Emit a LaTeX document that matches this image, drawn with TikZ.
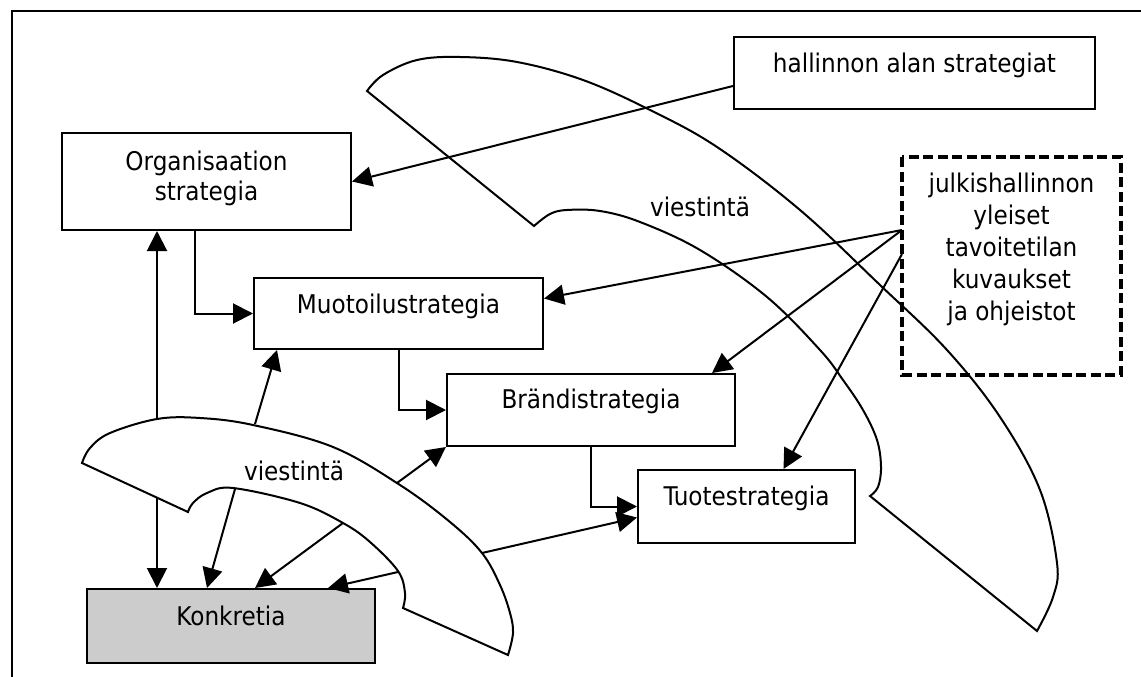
\documentclass[tikz,border=0pt]{standalone}
\usepackage{fontspec}
\setmainfont{DejaVu Sans Condensed}
\usetikzlibrary{arrows.meta,calc}
\definecolor{konkgray}{RGB}{204,204,204}
\begin{document}
\begin{tikzpicture}[x=0.75pt,y=-0.75pt,
  box/.style={draw, line width=1.5pt, inner sep=0pt, anchor=north west},
  txt/.style={font=\fontsize{19.3}{22}\selectfont, inner sep=0pt, anchor=base},
  arr/.style={-{Triangle[length=15pt,width=15pt]}, line width=1.5pt},
  shp/.style={line width=1.5pt, line join=miter},
  frame/.style={line width=1.6pt}]
\useasboundingbox (0,0) rectangle (1141,677);
\clip (0,0) rectangle (1141,677);
% outer frame
\draw[frame] (12,700) -- (12,11) -- (1160,11);
% boxes
\node[box, minimum width=289*0.75pt, minimum height=97*0.75pt] (org) at (61,132) {};
\node[box, minimum width=361*0.75pt, minimum height=72*0.75pt] (hal) at (733,36) {};
\node[box, draw=none, minimum width=217*0.75pt, minimum height=216*0.75pt] (julk) at (902,157) {};
\draw[line width=0.5pt, double, double distance=2.4pt] (julk.north west) rectangle (julk.south east);
\draw[line width=3.4pt, dash pattern=on 7.5pt off 3.4pt] (julk.north west) rectangle (julk.south east);
\node[box, minimum width=289*0.75pt, minimum height=71*0.75pt] (muot) at (253,277) {};
\node[box, minimum width=288*0.75pt, minimum height=72*0.75pt] (brand) at (446,373) {};
\node[box, minimum width=217*0.75pt, minimum height=73*0.75pt] (tuote) at (637,469) {};
\node[box, fill=konkgray, minimum width=288*0.75pt, minimum height=74*0.75pt] (konk) at (86,588) {};
% texts
\node[txt] (org-t) at ($(org.north)+(0,39)$) {\begin{tabular}[t]{@{}c@{}}Organisaation\\strategia\end{tabular}};
\node[txt] (hal-t) at ($(hal.north)+(0,37)$) {hallinnon alan strategiat};
\node[txt, font=\fontsize{19.3}{24}\selectfont] (julk-t) at ($(julk.north)+(0,36)$) {\begin{tabular}[t]{@{}c@{}}julkishallinnon\\yleiset\\tavoitetilan\\kuvaukset\\ja ohjeistot\end{tabular}};
\node[txt] (muot-t) at ($(muot.north)+(0,36)$) {Muotoilustrategia};
\node[txt] (brand-t) at ($(brand.north)+(0,35)$) {Brändistrategia};
\node[txt] (tuote-t) at ($(tuote.north)+(0,36)$) {Tuotestrategia};
\node[txt] (konk-t) at ($(konk.north)+(0,37)$) {Konkretia};
% big viestinta shape
\draw[shp] plot[smooth, tension=0.6] coordinates {(367,91) (383,75) (417,60) (460,57) (517,62) (583,80) (650,110) (717,147) (800,210) (880,285) (947,350) (1000,417) (1040,490) (1057,563) (1053,597) (1037,631)}
  -- plot[smooth, tension=0.6] coordinates {(870,496) (878,487) (881,467) (877,440) (863,410) (843,380) (820,350) (767,297) (700,250) (640,222) (600,211) (567,210) (550,214) (534,226)} -- cycle;
\node[txt] (big-t) at (700,217) {viestintä};
% small viestinta shape
\draw[shp, fill=white] plot[smooth, tension=0.6] coordinates {(82,463) (90,448) (110,433) (157,419) (200,418) (253,425) (333,447) (400,485) (450,522) (482,553) (500,585) (510,613) (513,633) (508,655)}
  -- plot[smooth, tension=0.6] coordinates {(403,608) (405,593) (398,571) (370,542) (343,523) (300,503) (233,488) (207,493) (193,503) (188,512)} -- cycle;
\node[txt] (small-t) at (294,480) {viestintä};
% connector end points on the small shape
\coordinate (s1) at (482,553);
\coordinate (s2) at (397,483);
\coordinate (s3) at (255,424);
\coordinate (s4) at (157,419);
\coordinate (s5) at (157,498);
\coordinate (s6) at (235,489);
\coordinate (s7) at (343,523);
\coordinate (s8) at (398,572);
% connectors
\draw[arr] ($(hal.west)+(0,13)$) -- (org.east);
\draw[arr] ($(julk.west)+(0,-36)$) -- ($(muot.east)+(0,-15)$);
\draw[arr] ($(julk.west)+(0,-36)$) -- ($(brand.north east)+(-24,0)$);
\draw[arr] ($(julk.west)+(0,-12)$) -- ($(tuote.north)+(37,0)$);
\draw[arr] ($(org.south)+(-12,0)$) |- (muot.west);
\draw[arr] (muot.south) |- (brand.west);
\draw[arr] (brand.south) |- (tuote.west);
\draw[arr] (s1) -- ($(tuote.west)+(0,11)$);
\draw[arr] (s2) -- (brand.south west);
\draw[arr] (s3) -- ($(muot.south west)+(24,0)$);
\draw[arr] (s4) -- ($(org.south west)+(96,0)$);
\draw[arr] (s5) -- ($(konk.north west)+(71,0)$);
\draw[arr] (s6) -- ($(konk.north west)+(121,0)$);
\draw[arr] (s7) -- ($(konk.north west)+(169,0)$);
\draw[arr] (s8) -- ($(konk.north west)+(242,0)$);
\end{tikzpicture}
\end{document}
